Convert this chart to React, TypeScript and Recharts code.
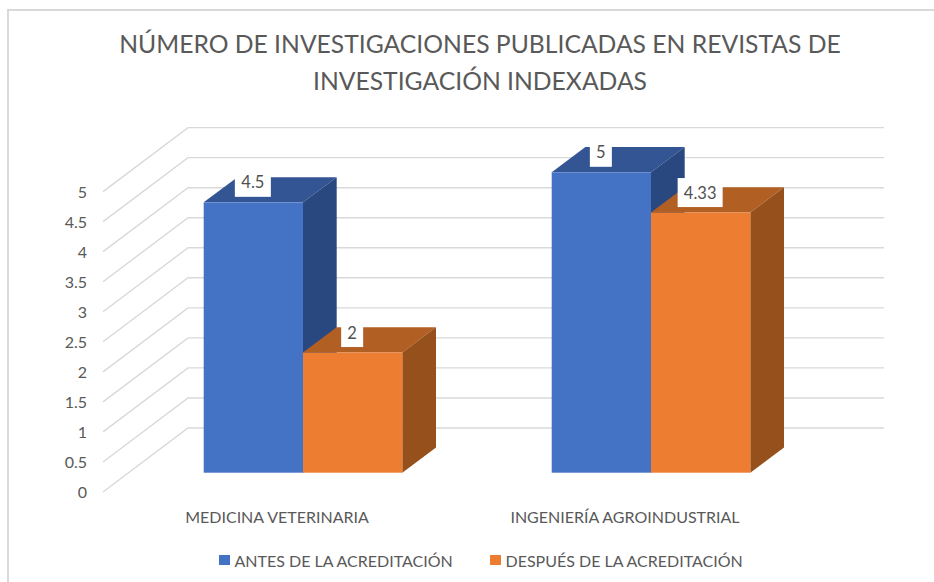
import { Bar, BarChart, CartesianGrid, LabelList, Legend, XAxis, YAxis } from 'recharts';

const titleLines = [
  'NÚMERO DE INVESTIGACIONES PUBLICADAS EN REVISTAS DE',
  'INVESTIGACIÓN INDEXADAS',
];
const categories = ['MEDICINA VETERINARIA', 'INGENIERÍA AGROINDUSTRIAL'];
const antes = [4.5, 5];
const despues = [2, 4.33];
const yTicks = [0, 0.5, 1, 1.5, 2, 2.5, 3, 3.5, 4, 4.5, 5];

const data = categories.map((name, i) => ({
  name,
  antes: antes[i],
  despues: despues[i],
}));

const FONT = 'Lato, sans-serif';
const TEXT = '#595959';
const GRID = '#D9D9D9';

// 3D look: offsets from the plane the bars stand on
const DEPTH_X = 33.7;
const DEPTH_Y = 25.2;
const FRONT_X = -25.7;
const FRONT_Y = 19.3;
const BACK_X = 59.3;
const BACK_Y = -44.7;

const PLOT_LEFT = 128.7;
const PLOT_RIGHT = 824.7;

function makeBarShape(top: string, side: string) {
  return function BarShape(props: any) {
    const { x, y, width, height, fill } = props;
    const r = x + width;
    const b = y + height;
    return (
      <g>
        <polygon
          points={`${x},${y} ${x + DEPTH_X},${y - DEPTH_Y} ${r + DEPTH_X},${y - DEPTH_Y} ${r},${y}`}
          fill={top}
        />
        <polygon
          points={`${r},${y} ${r + DEPTH_X},${y - DEPTH_Y} ${r + DEPTH_X},${b - DEPTH_Y} ${r},${b}`}
          fill={side}
        />
        <rect x={x} y={y} width={width} height={height} fill={fill} />
      </g>
    );
  };
}

// floor diagonal plus back wall line for one y tick
function gridLine(props: any) {
  const y = props.y1;
  const frontX = PLOT_LEFT + FRONT_X;
  const backX = PLOT_LEFT + BACK_X;
  return (
    <polyline
      key={props.key ?? y}
      points={`${frontX},${y + FRONT_Y} ${backX},${y + BACK_Y} ${PLOT_RIGHT + BACK_X},${y + BACK_Y}`}
      fill="none"
      stroke={GRID}
      strokeWidth={1.4}
    />
  );
}

function YTick(props: any) {
  const { y, payload } = props;
  return (
    <text
      x={87}
      y={y + 19}
      textAnchor="end"
      dominantBaseline="central"
      fontFamily={FONT}
      fontSize={16}
      fill={TEXT}
    >
      {payload.value}
    </text>
  );
}

function XTick(props: any) {
  const { x, payload } = props;
  return (
    <text
      x={x + FRONT_X}
      y={516}
      textAnchor="middle"
      dominantBaseline="central"
      fontFamily={FONT}
      fontSize={16}
      fill={TEXT}
    >
      {payload.value}
    </text>
  );
}

function ValueLabel(props: any) {
  const { x, y, width, value } = props;
  const text = String(value);
  const digits = text.replace('.', '').length;
  const boxWidth = digits * 9 + (text.includes('.') ? 5 : 0) + 13;
  const cx = x + width / 2 - 0.5;
  return (
    <g>
      <rect x={cx - boxWidth / 2} y={y - 34.5} width={boxWidth} height={29} fill="#FFFFFF" />
      <text
        x={cx}
        y={y - 20}
        textAnchor="middle"
        dominantBaseline="central"
        fontFamily={FONT}
        fontSize={16.5}
        fill="#505050"
      >
        {text}
      </text>
    </g>
  );
}

function ChartLegend(props: any) {
  const { payload } = props;
  const lefts = [219, 490];
  return (
    <div style={{ height: 0, position: 'relative' }}>
      {(payload ?? []).map((item: any, i: number) => (
        <div
          key={item.value}
          style={{
            position: 'absolute',
            left: lefts[i],
            top: 0,
            display: 'flex',
            alignItems: 'center',
            whiteSpace: 'nowrap',
            fontFamily: FONT,
            fontSize: 16,
            color: TEXT,
            height: 22,
          }}
        >
          <span
            style={{
              width: 10.5,
              height: 10.5,
              marginRight: 5,
              background: item.color,
              display: 'inline-block',
            }}
          />
          {item.value}
        </div>
      ))}
    </div>
  );
}

export default function App() {
  return (
    <div
      style={{
        position: 'absolute',
        left: 0,
        top: 0,
        width: 934,
        height: 582,
        overflow: 'hidden',
        background: '#FFFFFF',
      }}
    >
      <div
        style={{
          position: 'absolute',
          left: 7,
          top: 9,
          width: 927,
          height: 573,
          borderLeft: `2px solid ${GRID}`,
          borderTop: `2px solid ${GRID}`,
          boxSizing: 'border-box',
        }}
      />
      {titleLines.map((line, i) => (
        <div
          key={line}
          style={{
            position: 'absolute',
            left: 0,
            width: 960,
            top: 25 + i * 37,
            height: 37,
            lineHeight: '37px',
            textAlign: 'center',
            fontFamily: FONT,
            fontSize: 24.7,
            color: TEXT,
            whiteSpace: 'nowrap',
          }}
        >
          {line}
        </div>
      ))}
      <div style={{ position: 'absolute', left: 0, top: 0 }}>
        <BarChart
          width={934}
          height={582}
          data={data}
          barSize={99.3}
          barGap={0}
          margin={{ top: 172.3, right: 109.3, bottom: 79.3, left: 28.7 }}
        >
          <CartesianGrid horizontal={gridLine} vertical={false} />
          <XAxis
            dataKey="name"
            interval={0}
            height={30}
            axisLine={false}
            tickLine={false}
            tick={<XTick />}
          />
          <YAxis
            width={100}
            domain={[0, 5]}
            ticks={yTicks}
            axisLine={false}
            tickLine={false}
            tick={<YTick />}
          />
          <Legend
            content={<ChartLegend />}
            wrapperStyle={{ left: 0, top: 549, width: 934 }}
          />
          <Bar
            dataKey="antes"
            name="ANTES DE LA ACREDITACIÓN"
            fill="#4472C4"
            isAnimationActive={false}
            shape={makeBarShape('#335593', '#2A4880')}
          >
            <LabelList dataKey="antes" content={<ValueLabel />} />
          </Bar>
          <Bar
            dataKey="despues"
            name="DESPUÉS DE LA ACREDITACIÓN"
            fill="#ED7D31"
            isAnimationActive={false}
            shape={makeBarShape('#B25F24', '#95501C')}
          >
            <LabelList dataKey="despues" content={<ValueLabel />} />
          </Bar>
        </BarChart>
      </div>
    </div>
  );
}
